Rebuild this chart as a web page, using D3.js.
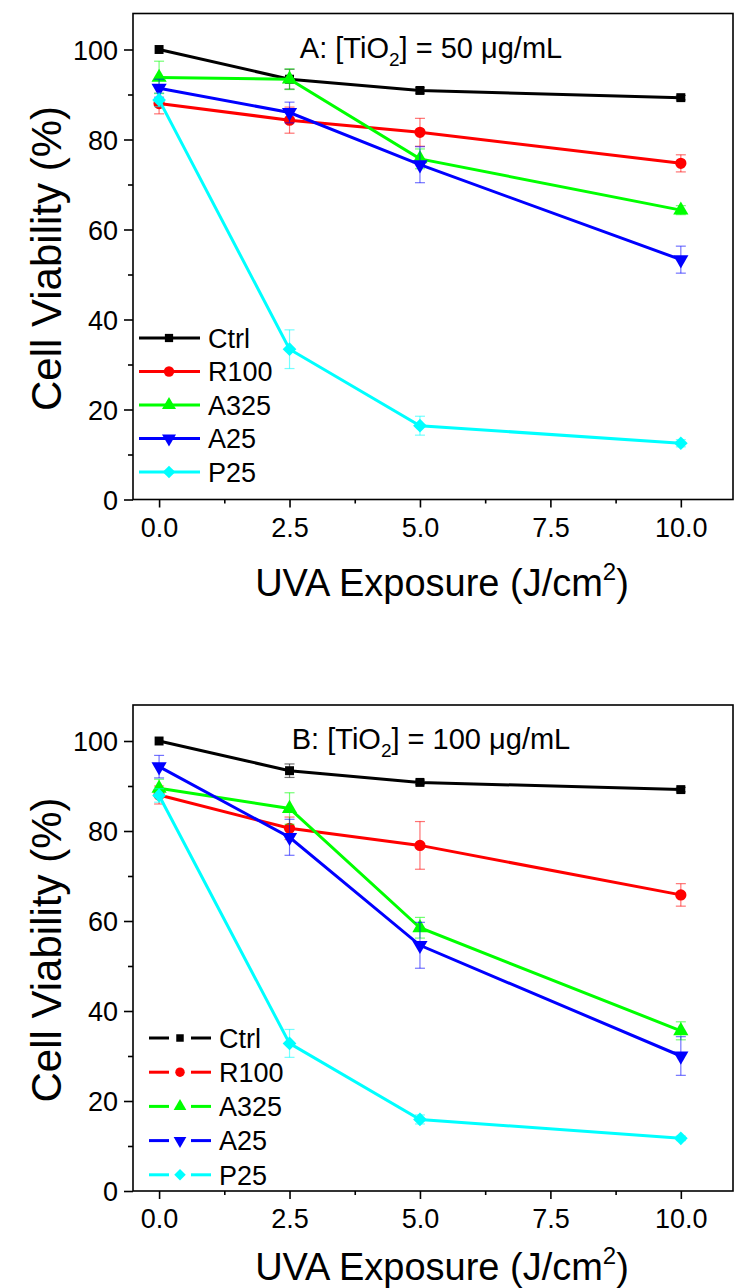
<!DOCTYPE html>
<html>
<head>
<meta charset="utf-8">
<script src="https://cdn.jsdelivr.net/npm/d3@7"></script>
<style>
  html, body { margin: 0; padding: 0; background: #fff; }
  svg { display: block; font-family: "Liberation Sans", Arial, sans-serif; }
  .axis path, .axis line { stroke: #000; stroke-width: 1.6; }
  .axis text { font-size: 27px; fill: #000; }
</style>
</head>
<body>
<svg id="chart"></svg>
<script>
// UVA dose (J/cm2)
const EXPOSURE = [0, 2.5, 5, 10];
const SERIES   = ["Ctrl", "R100", "A325", "A25", "P25"];
const COLORS   = { Ctrl: "#000000", R100: "#ff0000", A325: "#00ff00", A25: "#0000ff", P25: "#00ffff" };

// Panel A: [TiO2] = 50 ug/mL
const A_CTRL = [100, 93.4, 90.9, 89.3];
const A_R100 = [88.0, 84.3, 81.6, 74.7];
const A_A325 = [93.8, 93.4, 75.7, 64.3];
const A_A25  = [91.4, 86.0, 74.4, 53.3];
const A_P25  = [88.8, 33.4, 16.4, 12.5];
const A_CTRL_ERR = [0, 2.2, 0.6, 0.5];
const A_R100_ERR = [2.3, 2.9, 3.1, 1.9];
const A_A325_ERR = [3.6, 2.3, 2.2, 1.0];
const A_A25_ERR  = [2.0, 2.3, 4.0, 3.0];
const A_P25_ERR  = [1.5, 4.3, 2.1, 0.8];

// Panel B: [TiO2] = 100 ug/mL
const B_CTRL = [100, 93.4, 90.8, 89.2];
const B_R100 = [88.0, 80.6, 76.8, 65.8];
const B_A325 = [89.5, 85.0, 58.5, 35.6];
const B_A25  = [94.3, 78.6, 54.6, 30.0];
const B_P25  = [87.9, 32.8, 15.9, 11.7];
const B_CTRL_ERR = [0, 1.5, 0.5, 0.5];
const B_R100_ERR = [2.0, 2.5, 5.3, 2.5];
const B_A325_ERR = [2.0, 3.5, 2.3, 2.0];
const B_A25_ERR  = [2.5, 4.0, 5.1, 4.3];
const B_P25_ERR  = [1.5, 3.1, 1.0, 0.5];

const X_TICKS = [0, 2.5, 5, 7.5, 10];
const X_MINOR = [1.25, 3.75, 6.25, 8.75];
const Y_TICKS = [0, 20, 40, 60, 80, 100];
const Y_MINOR = [10, 30, 50, 70, 90];

const W = 735, H = 1288;
const X_DOMAIN = [-0.5, 11];
const Y_DOMAIN = [0, 108];

const PANELS = [
  { label: "A", conc: "50",  top: 13.5, bottom: 499.5, brokenLegend: false, titleGap: 96,
    legendX: 139, legendY: 338, legendStep: 33.5,
    values: [A_CTRL, A_R100, A_A325, A_A25, A_P25],
    errors: [A_CTRL_ERR, A_R100_ERR, A_A325_ERR, A_A25_ERR, A_P25_ERR] },
  { label: "B", conc: "100", top: 705, bottom: 1191, brokenLegend: true, titleGap: 89,
    legendX: 149, legendY: 1038, legendStep: 34.2,
    values: [B_CTRL, B_R100, B_A325, B_A25, B_P25],
    errors: [B_CTRL_ERR, B_R100_ERR, B_A325_ERR, B_A25_ERR, B_P25_ERR] }
];

const SYMBOLS = {
  Ctrl: { type: d3.symbolSquare,   size: 80,  rot: 0 },
  R100: { type: d3.symbolCircle,   size: 100, rot: 0 },
  A325: { type: d3.symbolTriangle, size: 100, rot: 0 },
  A25:  { type: d3.symbolTriangle, size: 100, rot: 180 },
  P25:  { type: d3.symbolDiamond2, size: 120, rot: 0 }
};

const PLOT_L = 133, PLOT_R = 733;

const svg = d3.select("#chart").attr("width", W).attr("height", H);

const xScale = d3.scaleLinear().domain(X_DOMAIN).range([PLOT_L, PLOT_R]);

function marker(g, name, x, y, scale) {
  const s = SYMBOLS[name];
  g.append("path")
    .attr("d", d3.symbol().type(s.type).size(s.size * scale)())
    .attr("transform", `translate(${x},${y}) rotate(${s.rot})`)
    .attr("fill", COLORS[name]);
}

function drawPanel(p) {
  const yScale = d3.scaleLinear().domain(Y_DOMAIN).range([p.bottom, p.top]);
  const g = svg.append("g");

  // frame
  g.append("rect")
    .attr("x", PLOT_L).attr("y", p.top)
    .attr("width", PLOT_R - PLOT_L).attr("height", p.bottom - p.top)
    .attr("fill", "none").attr("stroke", "#000").attr("stroke-width", 1.6);

  // axes
  g.append("g").attr("class", "axis")
    .attr("transform", `translate(0,${p.bottom})`)
    .call(d3.axisBottom(xScale).tickValues(X_TICKS).tickSize(8).tickPadding(10)
      .tickFormat(d3.format(".1f")))
    .call((a) => a.select(".domain").remove());
  g.append("g").attr("class", "axis")
    .attr("transform", `translate(0,${p.bottom})`)
    .call(d3.axisBottom(xScale).tickValues(X_MINOR).tickSize(4).tickFormat(""))
    .call((a) => a.select(".domain").remove());
  g.append("g").attr("class", "axis")
    .attr("transform", `translate(${PLOT_L},0)`)
    .call(d3.axisLeft(yScale).tickValues(Y_TICKS).tickSize(9).tickPadding(6))
    .call((a) => a.select(".domain").remove())
    .selectAll("text").attr("dy", "0.36em");
  g.append("g").attr("class", "axis")
    .attr("transform", `translate(${PLOT_L},0)`)
    .call(d3.axisLeft(yScale).tickValues(Y_MINOR).tickSize(5).tickFormat(""))
    .call((a) => a.select(".domain").remove());

  // axis titles
  g.append("text")
    .attr("transform", `translate(61,${(p.top + p.bottom) / 2 + 2}) rotate(-90)`)
    .attr("text-anchor", "middle")
    .attr("font-size", 42)
    .text("Cell Viability (%)");

  const xt = g.append("text")
    .attr("x", (PLOT_L + PLOT_R) / 2 + 9)
    .attr("y", p.bottom + p.titleGap)
    .attr("text-anchor", "middle")
    .attr("font-size", 38);
  xt.append("tspan").text("UVA Exposure (J/cm");
  xt.append("tspan").attr("font-size", 24).attr("dy", -16).text("2");
  xt.append("tspan").attr("dy", 16).text(")");

  // panel title
  const tt = g.append("text")
    .attr("x", 431).attr("y", p.top + 44)
    .attr("text-anchor", "middle")
    .attr("font-size", 29);
  tt.append("tspan").text(`${p.label}: [TiO`);
  tt.append("tspan").attr("font-size", 19).attr("dy", 8).text("2");
  tt.append("tspan").attr("dy", -8).text(`] = ${p.conc} \u03bcg/mL`);

  // series
  SERIES.forEach((name, si) => {
    const vals = p.values[si];
    const errs = p.errors[si];
    const col  = COLORS[name];
    const sg   = g.append("g");

    const pts = EXPOSURE.map((x, i) => ({ x, y: vals[i], e: errs[i] }));

    sg.append("path")
      .datum(pts)
      .attr("fill", "none")
      .attr("stroke", col)
      .attr("stroke-width", 3)
      .attr("d", d3.line().x((d) => xScale(d.x)).y((d) => yScale(d.y)));

    pts.forEach((d) => {
      if (!d.e) return;
      const cx = xScale(d.x);
      const y1 = yScale(d.y + d.e), y2 = yScale(d.y - d.e);
      const eg = sg.append("g").attr("stroke", col).attr("stroke-width", 1.2)
        .attr("stroke-opacity", 0.55);
      eg.append("line").attr("x1", cx).attr("x2", cx).attr("y1", y1).attr("y2", y2);
      eg.append("line").attr("x1", cx - 5).attr("x2", cx + 5).attr("y1", y1).attr("y2", y1);
      eg.append("line").attr("x1", cx - 5).attr("x2", cx + 5).attr("y1", y2).attr("y2", y2);
    });

    pts.forEach((d) => marker(sg, name, xScale(d.x), yScale(d.y), 1));

    // legend entry
    const ly = p.legendY + si * p.legendStep;
    const lx = p.legendX;
    const lg = g.append("g");
    if (p.brokenLegend) {
      lg.append("line").attr("x1", lx).attr("x2", lx + 20).attr("y1", ly).attr("y2", ly)
        .attr("stroke", col).attr("stroke-width", 3);
      lg.append("line").attr("x1", lx + 42).attr("x2", lx + 62).attr("y1", ly).attr("y2", ly)
        .attr("stroke", col).attr("stroke-width", 3);
      marker(lg, name, lx + 31, ly, 0.7);
    } else {
      lg.append("line").attr("x1", lx).attr("x2", lx + 61).attr("y1", ly).attr("y2", ly)
        .attr("stroke", col).attr("stroke-width", 3);
      marker(lg, name, lx + 30, ly, 0.85);
    }
    lg.append("text")
      .attr("x", lx + (p.brokenLegend ? 70 : 69))
      .attr("y", ly).attr("dy", "0.36em")
      .attr("font-size", 27)
      .text(name);
  });
}

PANELS.forEach(drawPanel);
</script>
</body>
</html>
